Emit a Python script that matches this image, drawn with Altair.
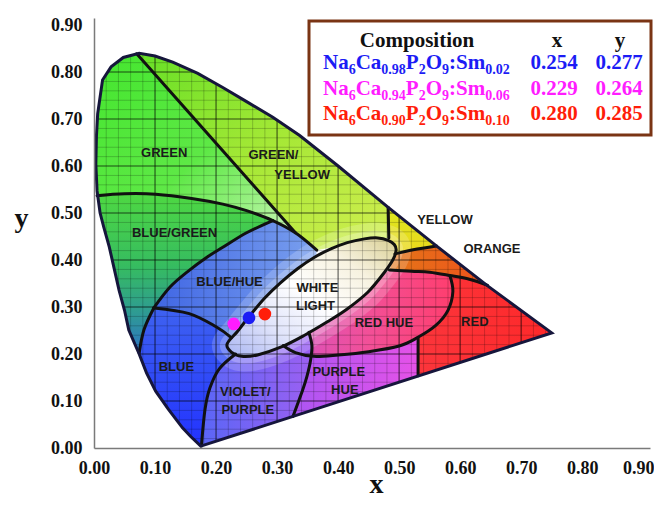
import altair as alt
import pandas as pd

# ---------------- data ----------------
# spectral locus (horseshoe), from the violet end up the left side, over the top, down to the red tip
locus_x = [0.175, 0.158, 0.145, 0.122, 0.101, 0.086, 0.074, 0.057, 0.050, 0.041, 0.025, 0.016, 0.010,
           0.005, 0.003, 0.004, 0.006, 0.014, 0.028, 0.048, 0.074, 0.100, 0.129, 0.170, 0.211, 0.250,
           0.293, 0.337, 0.400, 0.482, 0.561, 0.645, 0.750]
locus_y = [0.004, 0.025, 0.043, 0.082, 0.121, 0.160, 0.200, 0.251, 0.293, 0.336, 0.428, 0.470, 0.500,
           0.547, 0.604, 0.664, 0.711, 0.783, 0.811, 0.831, 0.840, 0.834, 0.821, 0.797, 0.767, 0.737,
           0.704, 0.665, 0.600, 0.512, 0.430, 0.345, 0.245]

# white-light ellipse
ell_x = [0.218, 0.235, 0.252, 0.279, 0.305, 0.334, 0.360, 0.389, 0.415, 0.443, 0.465, 0.482, 0.492,
         0.495, 0.490, 0.476, 0.449, 0.416, 0.383, 0.345, 0.307, 0.268, 0.242, 0.225]
ell_y = [0.221, 0.248, 0.276, 0.318, 0.351, 0.382, 0.405, 0.424, 0.437, 0.445, 0.447, 0.442, 0.433,
         0.421, 0.401, 0.374, 0.332, 0.297, 0.269, 0.240, 0.215, 0.198, 0.195, 0.204]

# colour regions (vertices)
green_pts = [(0.0, 0.537), (0.005, 0.547), (0.003, 0.604), (0.004, 0.664), (0.006, 0.711), (0.014, 0.783),
             (0.028, 0.811), (0.048, 0.831), (0.070, 0.839), (0.33, 0.458), (0.293, 0.484),
             (0.25, 0.505), (0.211, 0.519), (0.16, 0.531), (0.101, 0.540), (0.05, 0.541)]
greenyellow_pts = [(0.070, 0.839), (0.074, 0.841), (0.100, 0.834), (0.129, 0.821), (0.170, 0.797),
                   (0.211, 0.767), (0.250, 0.737), (0.293, 0.704), (0.337, 0.665), (0.400, 0.600),
                   (0.482, 0.512), (0.483, 0.447), (0.443, 0.445), (0.40, 0.43), (0.365, 0.421), (0.33, 0.458)]
yellow_pts = [(0.482, 0.512), (0.482, 0.53), (0.60, 0.44), (0.561, 0.430), (0.523, 0.422), (0.493, 0.413),
              (0.483, 0.447)]
orange_pts = [(0.493, 0.413), (0.523, 0.422), (0.561, 0.430), (0.60, 0.44), (0.72, 0.36), (0.65, 0.344),
              (0.615, 0.359), (0.583, 0.367), (0.55, 0.374), (0.52, 0.376), (0.484, 0.379)]
red_pts = [(0.484, 0.379), (0.52, 0.376), (0.55, 0.374), (0.583, 0.367), (0.615, 0.359), (0.65, 0.344),
           (0.72, 0.36), (0.82, 0.25), (0.55, 0.12), (0.45, 0.28)]
purplehue_pts = [(0.345, 0.26), (0.531, 0.25), (0.531, 0.10), (0.30, 0.03)]
redhue_pts = [(0.484, 0.379), (0.52, 0.376), (0.55, 0.374), (0.583, 0.367), (0.588, 0.333), (0.58, 0.293),
              (0.56, 0.261), (0.53, 0.235), (0.50, 0.217), (0.45, 0.205), (0.40, 0.198), (0.36, 0.195),
              (0.33, 0.203), (0.31, 0.218), (0.40, 0.30)]
violet_pts = [(0.232, 0.200), (0.205, 0.168), (0.190, 0.128), (0.182, 0.083), (0.176, 0.004), (0.33, 0.04),
              (0.326, 0.067), (0.342, 0.124), (0.349, 0.153), (0.355, 0.188), (0.357, 0.218), (0.352, 0.246),
              (0.30, 0.22)]
blue_pts = [(0.098, 0.298), (0.156, 0.286), (0.200, 0.258), (0.225, 0.235), (0.232, 0.200), (0.205, 0.168),
            (0.190, 0.128), (0.182, 0.083), (0.176, 0.004), (0.10, 0.0), (0.02, 0.2), (0.072, 0.202),
            (0.082, 0.252)]
bluehue_pts = [(0.098, 0.298), (0.125, 0.343), (0.156, 0.378), (0.185, 0.406), (0.211, 0.427), (0.25, 0.458),
               (0.293, 0.484), (0.33, 0.458), (0.365, 0.421), (0.36, 0.35), (0.218, 0.22), (0.225, 0.235),
               (0.200, 0.258), (0.156, 0.286)]
bluegreen_pts = [(0.0, 0.537), (0.05, 0.541), (0.101, 0.540), (0.16, 0.531), (0.211, 0.519), (0.25, 0.505),
                 (0.293, 0.484), (0.25, 0.458), (0.211, 0.427), (0.185, 0.406), (0.156, 0.378), (0.125, 0.343),
                 (0.098, 0.298), (0.082, 0.252), (0.072, 0.202), (0.0, 0.2)]

# black boundary lines between regions
boundaries = {
    "green_gy": [(0.070, 0.839), (0.33, 0.458)],
    "green_bg": [(0.005, 0.537), (0.05, 0.541), (0.101, 0.540), (0.16, 0.531), (0.211, 0.519), (0.25, 0.505),
                 (0.293, 0.484), (0.33, 0.458), (0.365, 0.421)],
    "bg_bh": [(0.098, 0.298), (0.125, 0.343), (0.156, 0.378), (0.185, 0.406), (0.211, 0.427), (0.25, 0.458),
              (0.293, 0.484)],
    "blue_bh": [(0.098, 0.298), (0.156, 0.286), (0.200, 0.258), (0.225, 0.235)],
    "blue_bg": [(0.098, 0.298), (0.082, 0.252), (0.074, 0.202)],
    "blue_violet": [(0.232, 0.200), (0.205, 0.168), (0.190, 0.128), (0.182, 0.083), (0.176, 0.004)],
    "violet_ph": [(0.352, 0.246), (0.357, 0.218), (0.355, 0.188), (0.349, 0.153), (0.342, 0.124), (0.326, 0.067)],
    "redhue": [(0.583, 0.367), (0.588, 0.333), (0.58, 0.293), (0.56, 0.261), (0.53, 0.235), (0.50, 0.217),
               (0.45, 0.205), (0.40, 0.198), (0.36, 0.195), (0.33, 0.203), (0.31, 0.218)],
    "ph_red": [(0.531, 0.235), (0.531, 0.154)],
    "yellow_left": [(0.482, 0.512), (0.483, 0.447)],
    "yellow_orange": [(0.493, 0.413), (0.523, 0.422), (0.561, 0.430)],
    "orange_red": [(0.484, 0.379), (0.52, 0.376), (0.55, 0.374), (0.583, 0.367), (0.615, 0.359), (0.645, 0.346)],
}

# region names
label_text = ["GREEN", "GREEN/", "YELLOW", "YELLOW", "ORANGE", "BLUE/GREEN", "BLUE/HUE", "WHITE", "LIGHT",
              "RED HUE", "RED", "BLUE", "VIOLET/", "PURPLE", "PURPLE", "HUE"]
label_x = [0.115, 0.294, 0.341, 0.575, 0.652, 0.132, 0.222, 0.366, 0.363, 0.475, 0.624, 0.135, 0.248, 0.252,
           0.401, 0.411]
label_y = [0.628, 0.623, 0.581, 0.485, 0.423, 0.458, 0.354, 0.341, 0.303, 0.267, 0.269, 0.173, 0.120, 0.081,
           0.162, 0.123]

# samples
sample_ca = ["0.98", "0.94", "0.90"]
sample_sm = ["0.02", "0.06", "0.10"]
sample_x = [0.254, 0.229, 0.280]
sample_y = [0.277, 0.264, 0.285]
sample_color = ["#1c1cf5", "#ff1cff", "#ff1e0a"]

x_ticks = [0.0, 0.1, 0.2, 0.3, 0.4, 0.5, 0.6, 0.7, 0.8, 0.9]
y_ticks = [0.0, 0.1, 0.2, 0.3, 0.4, 0.5, 0.6, 0.7, 0.8, 0.9]
grid_minor = [round(0.02 * i, 2) for i in range(1, 43) if i % 5 != 0]
grid_major = [0.1, 0.2, 0.3, 0.4, 0.5, 0.6, 0.7, 0.8]

SERIF = "Liberation Serif, Times New Roman, serif"
SANS = "Liberation Sans, Arial, sans-serif"

# ---------------- scales / axes ----------------
XS = alt.Scale(domain=[0, 0.911], nice=False, zero=False)
YS = alt.Scale(domain=[0, 0.915], nice=False, zero=False)
common_ax = dict(format=".2f", ticks=False, grid=False, domainColor="#7a7a7a", domainWidth=1.5,
                 labelFont=SERIF, labelFontWeight="bold", labelFontSize=18, labelColor="#111111",
                 labelFlush=False, labelOverlap=False, titleFont=SERIF, titleFontWeight="bold",
                 titleFontSize=28, titleColor="#111111", titleAlign="center", titleBaseline="alphabetic",
                 zindex=1)
XAX = alt.Axis(values=x_ticks, labelPadding=11, title="x", titleX=282, titleY=44,
               labelOffset={"condition": {"test": "datum.value > 0.85", "value": -5}, "value": 0}, **common_ax)
YAX = alt.Axis(values=y_ticks, labelPadding=12, title="y", titleAngle=0, titleX=-73, titleY=208, **common_ax)


def X(f="x"):
    return alt.X(f"{f}:Q", scale=XS, axis=XAX)


def Y(f="y"):
    return alt.Y(f"{f}:Q", scale=YS, axis=YAX)


def pts_df(pts):
    return pd.DataFrame({"x": [p[0] for p in pts], "y": [p[1] for p in pts], "i": list(range(len(pts)))})


def poly(pts, **mk):
    return alt.Chart(pts_df(pts)).mark_line(**mk).encode(x=X(), y=Y(), order="i:Q")


def lin(stops, x1=0, y1=0, x2=1, y2=0):
    return {"gradient": "linear", "x1": x1, "y1": y1, "x2": x2, "y2": y2,
            "stops": [{"offset": o, "color": c} for o, c in stops]}


def region(pts, grad):
    return poly(pts, fill=grad, strokeWidth=0, strokeOpacity=0, interpolate="linear-closed")


locus = list(zip(locus_x, locus_y))
ellipse = list(zip(ell_x, ell_y))

layers = []
layers.append(region(green_pts, lin([(0, "#44e62e"), (0.55, "#5ee846"), (1, "#c8f7b4")], 0, 0, 1, 1)))
layers.append(region(greenyellow_pts, lin([(0, "#66e026"), (0.5, "#a6e836"), (1, "#d2ee50")], 0, 0, 1, 1)))
layers.append(region(yellow_pts, lin([(0, "#d8ea20"), (1, "#ecd81c")], 0, 0, 0, 1)))
layers.append(region(orange_pts, lin([(0, "#e47618"), (1, "#f4401e")])))
layers.append(region(red_pts, lin([(0, "#fa3a42"), (1, "#ff2424")])))
layers.append(region(purplehue_pts, lin([(0, "#a456f4"), (1, "#e652e8")])))
layers.append(region(redhue_pts, lin([(0, "#d652c2"), (0.5, "#f25098"), (1, "#ff3e6e")])))
layers.append(region(violet_pts, lin([(0, "#5a66f6"), (1, "#9c60f2")])))
layers.append(region(blue_pts, lin([(0, "#3e62f0"), (1, "#2232ff")], 0, 0, 0, 1)))
layers.append(region(bluehue_pts, lin([(0, "#4066e4"), (1, "#7aa0ee")])))
layers.append(region(bluegreen_pts, lin([(0, "#4ed842"), (0.45, "#36bc60"), (0.75, "#2e9a94"), (1, "#2e72c6")],
                                        0, 0, 0, 1)))
# glow around the white light region
layers.append(poly(ellipse, color="white", strokeWidth=30, strokeOpacity=0.18, interpolate="cardinal-closed"))
layers.append(poly(ellipse, color="white", strokeWidth=14, strokeOpacity=0.22, interpolate="cardinal-closed"))
layers.append(poly(ellipse, fill=lin([(0, "#a8b4f2"), (0.25, "#dfe3fa"), (0.5, "#ffffff"), (0.75, "#f7f2e0"),
                                      (1, "#d9cf92")], 0, 1, 1, 0),
                   strokeWidth=0, strokeOpacity=0, interpolate="cardinal-closed"))

# grid
vminor = pd.DataFrame({"x": [g for g in grid_minor if g <= 0.75], "y": 0.0, "y2": 0.845})
hminor = pd.DataFrame({"y": [g for g in grid_minor if g <= 0.845], "x": 0.0, "x2": 0.76})
vmajor = pd.DataFrame({"x": [g for g in grid_major if g <= 0.75], "y": 0.0, "y2": 0.845})
hmajor = pd.DataFrame({"y": grid_major, "x": 0.0, "x2": 0.76})
for df, op, w in [(vminor, 0.2, 1), (hminor, 0.2, 1), (vmajor, 0.45, 1.6), (hmajor, 0.45, 1.6)]:
    if "x2" in df:
        layers.append(alt.Chart(df).mark_rule(color="black", strokeOpacity=op, strokeWidth=w).encode(
            x=X(), x2="x2:Q", y=Y()))
    else:
        layers.append(alt.Chart(df).mark_rule(color="black", strokeOpacity=op, strokeWidth=w).encode(
            x=X(), y=Y(), y2="y2:Q"))

# white mask outside the horseshoe
mask_pts = [(0, 0), (0, 0.915), (0.911, 0.915), (0.911, 0), (0.175, 0), (0.175, 0.004)] + locus[::-1] + [(0.175, 0)]
layers.append(poly(mask_pts, fill="white", strokeWidth=0, strokeOpacity=0, interpolate="linear"))

# boundaries
rows = []
for name, pts in boundaries.items():
    for i, (bx, by) in enumerate(pts):
        rows.append({"seg": name, "i": i, "x": bx, "y": by})
layers.append(alt.Chart(pd.DataFrame(rows)).mark_line(color="#111111", strokeWidth=3, interpolate="cardinal",
                                                      strokeCap="round", strokeJoin="round").encode(
    x=X(), y=Y(), detail="seg:N", order="i:Q"))
layers.append(poly(ellipse, color="#111111", strokeWidth=3, interpolate="cardinal-closed"))
layers.append(poly(locus, color="#16163c", strokeWidth=3, interpolate="linear-closed"))

# region labels
layers.append(alt.Chart(pd.DataFrame({"x": label_x, "y": label_y, "t": label_text})).mark_text(
    font=SANS, fontWeight="bold", fontSize=13, color="#1b1b1b", baseline="middle").encode(
    x=X(), y=Y(), text="t:N"))

# sample points
layers.append(alt.Chart(pd.DataFrame({"x": sample_x, "y": sample_y, "c": sample_color})).mark_circle(
    size=160, opacity=1).encode(x=X(), y=Y(), color=alt.Color("c:N", scale=None)))

# legend table box
layers.append(alt.Chart(pd.DataFrame({"a": [0]})).mark_rect(fill="white", stroke="#7a3414", strokeWidth=3).encode(
    x=alt.value(215), x2=alt.value(557), y=alt.value(3), y2=alt.value(117)))

W = {"N": 0.722, "a": 0.5, "C": 0.722, "P": 0.611, "O": 0.778, ":": 0.333, "S": 0.556, "m": 0.833, ".": 0.25}
MAIN, SUB = 21, 14


def tw(s, size):
    return sum(W.get(ch, 0.5) for ch in s) * size


seg_rows = []
row_base = [51, 76.5, 102]
for r in range(3):
    segs = [("Na", 0), ("6", 1), ("Ca", 0), (sample_ca[r], 1), ("P", 0), ("2", 1), ("O", 0), ("9", 1),
            (":Sm", 0), (sample_sm[r], 1)]
    cx = 229
    for s, sub in segs:
        size = SUB if sub else MAIN
        seg_rows.append({"px": cx, "py": row_base[r] + (5 if sub else 0), "t": s, "fs": size,
                         "c": sample_color[r]})
        cx += tw(s, size)
layers.append(alt.Chart(pd.DataFrame(seg_rows)).mark_text(
    align="left", baseline="alphabetic", font=SERIF, fontWeight="bold").encode(
    x=alt.X("px:Q", scale=None), y=alt.Y("py:Q", scale=None), text="t:N",
    size=alt.Size("fs:Q", scale=None, legend=None), color=alt.Color("c:N", scale=None)))

cen_rows = [{"px": 323, "py": 29, "t": "Composition", "c": "#111111"},
            {"px": 463, "py": 29, "t": "x", "c": "#111111"},
            {"px": 526, "py": 29, "t": "y", "c": "#111111"}]
for r in range(3):
    cen_rows.append({"px": 460, "py": row_base[r], "t": f"{sample_x[r]:.3f}", "c": sample_color[r]})
    cen_rows.append({"px": 525, "py": row_base[r], "t": f"{sample_y[r]:.3f}", "c": sample_color[r]})
layers.append(alt.Chart(pd.DataFrame(cen_rows)).mark_text(
    align="center", baseline="alphabetic", font=SERIF, fontWeight="bold", fontSize=21).encode(
    x=alt.X("px:Q", scale=None), y=alt.Y("py:Q", scale=None), text="t:N", color=alt.Color("c:N", scale=None)))

chart = alt.layer(*layers).properties(
    width=556, height=430,
    autosize=alt.AutoSizeParams(type="none"),
    padding={"left": 86, "top": 10, "right": 4, "bottom": 49},
).configure_view(strokeWidth=0)

chart.save("out.html", embed_options={"renderer": "svg", "actions": False})
